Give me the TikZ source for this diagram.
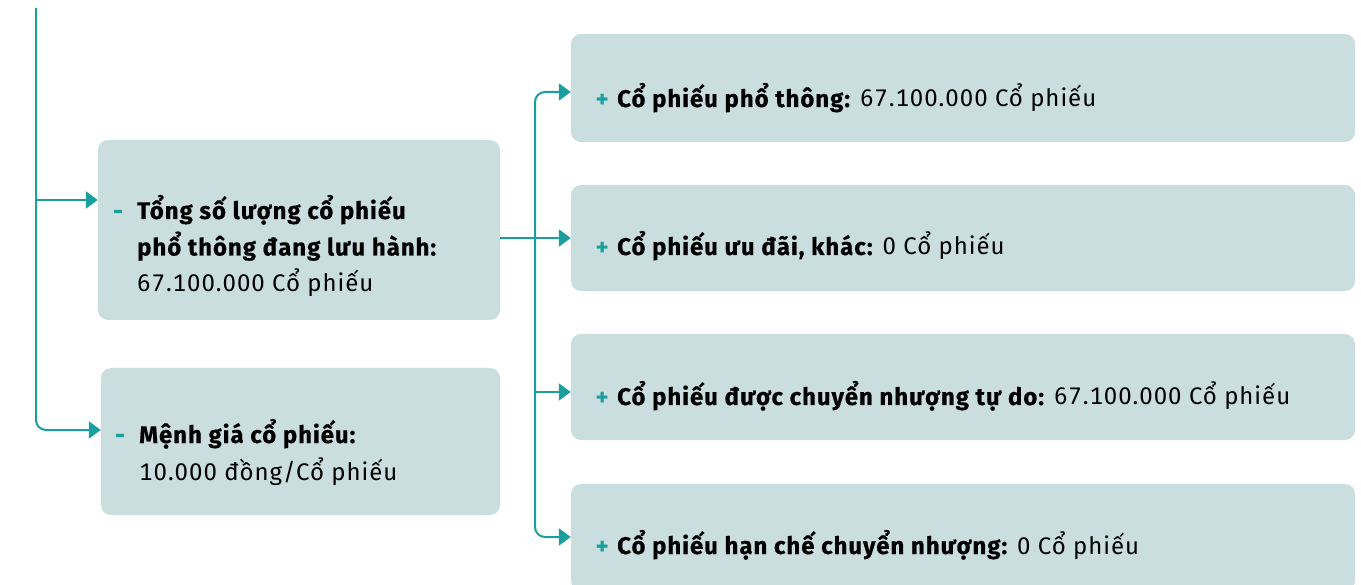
\documentclass[tikz,border=0pt]{standalone}
\usepackage{fontspec}
\setmainfont{Fira Sans}[Numbers=Monospaced, LetterSpace=4, BoldFeatures={FakeBold=0.5}]
\usetikzlibrary{arrows.meta,calc}
\definecolor{teal1}{RGB}{26,158,158}
\definecolor{boxbg}{RGB}{202,222,224}
\newcommand{\gapc}{\hspace{9pt}}
\begin{document}
\begin{tikzpicture}[x=1pt,y=-1pt,
  box/.style={fill=boxbg, rounded corners=10pt, draw=none, inner sep=0pt},
  link/.style={draw=teal1, line width=2pt, -{Triangle[length=12pt,width=17pt]}},
  txt/.style={anchor=base west, inner sep=0pt, font=\fontsize{24}{28}\selectfont},
  bul/.style={anchor=base, inner sep=0pt, text=teal1, font=\fontsize{24}{28}\selectfont\bfseries}]
\useasboundingbox (0,0) rectangle (1361,585);
% boxes
\node[box, minimum width=402pt, minimum height=180pt] (b1) at (299,230) {};
\node[box, minimum width=399pt, minimum height=147pt] (b2) at (300.5,441.5) {};
\node[box, minimum width=784pt, minimum height=108pt] (rA) at (963,88) {};
\node[box, minimum width=784pt, minimum height=106pt] (rB) at (963,238) {};
\node[box, minimum width=784pt, minimum height=106pt] (rC) at (963,387) {};
\node[box, minimum width=784pt, minimum height=106pt] (rD) at (963,537) {};
% texts left
\node[bul] (d1) at (118,219) {-};
\node[txt] (t1a) at (137,219) {\bfseries Tổng số lượng cổ phiếu};
\node[txt] (t1b) at (137,255.5) {\bfseries phổ thông đang lưu hành:};
\node[txt] (t1c) at (137,292) {67.100.000 Cổ phiếu};
\node[bul] (d2) at (120,443) {-};
\node[txt] (t2a) at (139,443) {\bfseries Mệnh giá cổ phiếu:};
\node[txt] (t2b) at (139,480) {10.000 đồng/Cổ phiếu};
% texts right
\node[bul] (pA) at (602,107) {+};
\node[txt] (tA) at (617,107) {\textbf{Cổ phiếu phổ thông:}\gapc 67.100.000 Cổ phiếu};
\node[bul] (pB) at (602,255) {+};
\node[txt] (tB) at (617,255) {\textbf{Cổ phiếu ưu đãi, khác:}\gapc 0 Cổ phiếu};
\node[bul] (pC) at (602,405) {+};
\node[txt] (tC) at (617,405) {\textbf{Cổ phiếu được chuyển nhượng tự do:}\gapc 67.100.000 Cổ phiếu};
\node[bul] (pD) at (602,554) {+};
\node[txt] (tD) at (617,554) {\textbf{Cổ phiếu hạn chế chuyển nhượng:}\gapc 0 Cổ phiếu};
% connectors
\coordinate (top) at (36,8);
\coordinate (vx) at (535,238);
\coordinate (e1) at ([yshift=30pt]b1.west);
\coordinate (e2) at ([yshift=11.5pt]b2.west);
\coordinate (eA) at ([yshift=-4pt]rA.west);
\coordinate (eC) at ([yshift=-5pt]rC.west);
\draw[link, rounded corners=10pt] (top) |- (e2);
\draw[link] (top |- e1) -- (e1);
\draw[link] (b1.east |- rB.west) -- (rB.west);
\draw[link, rounded corners=10pt] (vx) |- (eA);
\draw[link, rounded corners=10pt] (vx) |- (rD.west);
\draw[link] (vx |- eC) -- (eC);
\end{tikzpicture}
\end{document}
